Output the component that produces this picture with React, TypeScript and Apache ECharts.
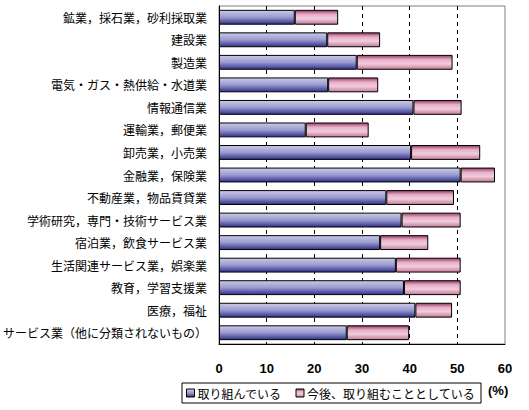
import React, { useEffect, useRef } from "react";
import * as echarts from "echarts";

const categories = [
  "鉱業，採石業，砂利採取業",
  "建設業",
  "製造業",
  "電気・ガス・熱供給・水道業",
  "情報通信業",
  "運輸業，郵便業",
  "卸売業，小売業",
  "金融業，保険業",
  "不動産業，物品賃貸業",
  "学術研究，専門・技術サービス業",
  "宿泊業，飲食サービス業",
  "生活関連サービス業，娯楽業",
  "教育，学習支援業",
  "医療，福祉",
  "サービス業（他に分類されないもの）",
];

const doing = [15.9, 22.7, 28.9, 22.9, 40.8, 18.2, 40.3, 50.7, 35.1, 38.3, 33.8, 37.1, 38.8, 41.2, 26.8];
const planned = [9.1, 11.1, 20.1, 10.5, 10.1, 13.2, 14.5, 7.2, 14.2, 12.4, 10.1, 13.6, 11.9, 7.7, 13.1];

const seriesNames = ["取り組んでいる", "今後、取り組むこととしている"];
const xTicks = { min: 0, max: 60, interval: 10 };

const jpFont = "'Noto Sans CJK JP', 'Noto Sans', sans-serif";

export default function App() {
  const ref = useRef<HTMLDivElement>(null);
  useEffect(() => {
    if (!ref.current) return;
    const chart = echarts.init(ref.current, undefined, { renderer: "svg" });
    const blue = new echarts.graphic.LinearGradient(0, 0, 0, 1, [
      { offset: 0, color: "#cacae8" },
      { offset: 0.5, color: "#9a9ad0" },
      { offset: 1, color: "#30308a" },
    ]);
    const pink = new echarts.graphic.LinearGradient(0, 0, 0, 1, [
      { offset: 0, color: "#9a3a6a" },
      { offset: 0.3, color: "#e4b0c6" },
      { offset: 0.6, color: "#f2ccdc" },
      { offset: 1, color: "#c27a9a" },
    ]);
    chart.setOption({
      animation: false,
      grid: {
        left: 216,
        right: 24,
        top: 6,
        bottom: 66,
        containLabel: false,
        show: true,
        borderColor: "#808080",
        borderWidth: 1,
      },
      legend: {
        left: 182,
        top: 383,
        width: 291,
        height: 23,
        padding: [4, 6, 4, 4],
        itemGap: 14,
        itemWidth: 8,
        itemHeight: 8,
        icon: "rect",
        borderColor: "#000",
        borderWidth: 1,
        borderRadius: 0,
        textStyle: { fontFamily: jpFont, fontSize: 12, color: "#000", padding: [0, 0, 0, -2] },
        itemStyle: { borderColor: "#000", borderWidth: 1 },
        data: seriesNames,
      },
      graphic: [
        {
          type: "text",
          left: 488,
          top: 384,
          style: {
            text: "(%)",
            font: "bold 13px 'Liberation Sans', Arial, sans-serif",
            fill: "#000",
          },
        },
      ],
      xAxis: {
        type: "value",
        min: xTicks.min,
        max: xTicks.max,
        interval: xTicks.interval,
        axisLine: { show: true, lineStyle: { color: "#000", width: 1 } },
        axisTick: { show: false },
        axisLabel: {
          margin: 18,
          fontFamily: "'Liberation Sans', Arial, sans-serif",
          fontWeight: "bold",
          fontSize: 13,
          color: "#000",
        },
        splitLine: {
          show: true,
          showMinLine: false,
          showMaxLine: false,
          lineStyle: { color: "#000", type: [4, 4], width: 1 },
        },
      },
      yAxis: {
        type: "category",
        data: categories,
        inverse: true,
        axisLine: { show: true, lineStyle: { color: "#000", width: 1 } },
        axisTick: { show: false },
        axisLabel: {
          margin: 12,
          fontFamily: jpFont,
          fontSize: 12,
          color: "#000",
        },
      },
      series: [
        {
          name: seriesNames[0],
          type: "bar",
          stack: "total",
          data: doing,
          barWidth: "66%",
          itemStyle: { color: blue, borderColor: "#000", borderWidth: 1 },
        },
        {
          name: seriesNames[1],
          type: "bar",
          stack: "total",
          data: planned,
          barWidth: "66%",
          itemStyle: { color: pink, borderColor: "#000", borderWidth: 1 },
        },
      ],
    });
    return () => chart.dispose();
  }, []);
  return <div ref={ref} style={{ width: 529, height: 410, position: "absolute", left: 0, top: 0 }} />;
}
